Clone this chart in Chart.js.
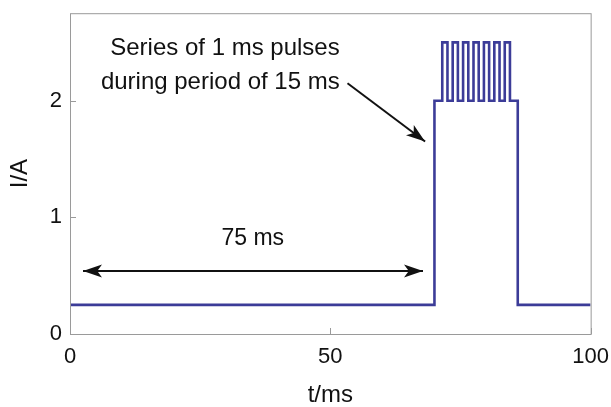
<!DOCTYPE html>
<html>
<head>
<meta charset="utf-8">
<script src="https://cdn.jsdelivr.net/npm/chart.js@4"></script>
<style>
	body { margin: 0; background: #fff; }
	#wrap { width: 611px; height: 407px; position: relative; }
</style>
</head>
<body>
<div id="wrap"><canvas id="pulse-canvas"></canvas></div>
<script>
// step trace: each value holds until the next time point
const time = [0, 70, 71.5, 72.5, 73.5, 74.5, 75.5, 76.5, 77.5, 78.5, 79.5, 80.5, 81.5, 82.5, 83.5, 84.5, 86, 100];
const current = [0.25, 2, 2.5, 2, 2.5, 2, 2.5, 2, 2.5, 2, 2.5, 2, 2.5, 2, 2.5, 2, 0.25, 0.25];

const xTicks = [0, 50, 100];
const yTicks = [0, 1, 2];

const noteLines = ["Series of 1 ms pulses", "during period of 15 ms"];
const spanLabel = "75 ms";

const fontFamily = "'Liberation Sans', Arial, Helvetica, sans-serif";

// ticks drawn inward, box round the plot, arrows and notes
const decorations = {
	id: "decorations",
	afterDraw(chart) {
		const ctx = chart.ctx;
		const area = chart.chartArea;
		const x = chart.scales.x;
		const y = chart.scales.y;

		ctx.save();
		ctx.strokeStyle = "#9a9a9a";
		ctx.lineWidth = 1;
		ctx.strokeRect(area.left + 0.5, area.top + 0.5, area.right - area.left, area.bottom - area.top);
		ctx.beginPath();
		yTicks.forEach((v) => {
			const py = Math.round(y.getPixelForValue(v)) + 0.5;
			ctx.moveTo(area.left, py);
			ctx.lineTo(area.left + 6, py);
		});
		xTicks.forEach((v) => {
			const px = Math.round(x.getPixelForValue(v)) + 0.5;
			ctx.moveTo(px, area.bottom);
			ctx.lineTo(px, area.bottom - 6);
		});
		ctx.stroke();

		const arrow = (x0, y0, x1, y1, both) => {
			const ax = x.getPixelForValue(x0), ay = y.getPixelForValue(y0);
			const bx = x.getPixelForValue(x1), by = y.getPixelForValue(y1);
			ctx.strokeStyle = "#111";
			ctx.fillStyle = "#111";
			ctx.lineWidth = 2;
			ctx.beginPath();
			ctx.moveTo(ax, ay);
			ctx.lineTo(bx, by);
			ctx.stroke();
			const head = (hx, hy, ang) => {
				const len = 19, wid = 6.5;
				const c = Math.cos(ang), s = Math.sin(ang);
				ctx.beginPath();
				ctx.moveTo(hx, hy);
				ctx.lineTo(hx - len * c - wid * s, hy - len * s + wid * c);
				ctx.lineTo(hx - len * 0.75 * c, hy - len * 0.75 * s);
				ctx.lineTo(hx - len * c + wid * s, hy - len * s - wid * c);
				ctx.closePath();
				ctx.fill();
			};
			const ang = Math.atan2(by - ay, bx - ax);
			head(bx, by, ang);
			if (both) head(ax, ay, ang + Math.PI);
		};

		arrow(2.5, 0.54, 67.8, 0.54, true);
		arrow(53.3, 2.15, 68.2, 1.65, false);

		ctx.fillStyle = "#111";
		ctx.textBaseline = "middle";
		ctx.font = "23px " + fontFamily;
		ctx.textAlign = "center";
		ctx.fillText(spanLabel, x.getPixelForValue(35.1), y.getPixelForValue(0.82));
		ctx.font = "24px " + fontFamily;
		ctx.textAlign = "right";
		ctx.fillText(noteLines[0], x.getPixelForValue(51.8), y.getPixelForValue(2.45));
		ctx.fillText(noteLines[1], x.getPixelForValue(51.8), y.getPixelForValue(2.16));
		ctx.restore();
	},
};

const pulseCanvas = document.getElementById("pulse-canvas").getContext("2d");

Chart.defaults.font.family = fontFamily;
Chart.defaults.color = "#111";

const pulseChart = new Chart(pulseCanvas, {
	type: "line",
	data: {
		datasets: [
			{
				data: time.map((t, i) => ({ x: t, y: current[i] })),
				borderColor: "#3c3c98",
				borderWidth: 2.6,
				pointRadius: 0,
				stepped: true,
				fill: false,
			},
		],
	},
	options: {
		animation: false,
		responsive: true,
		maintainAspectRatio: false,
		layout: {
			padding: { top: 12, right: 19, left: 0, bottom: 0 },
		},
		plugins: {
			legend: { display: false },
			tooltip: { enabled: false },
		},
		scales: {
			x: {
				type: "linear",
				min: 0,
				max: 100,
				grid: { display: false },
				border: { display: false },
				ticks: {
					stepSize: 50,
					padding: 2,
					font: { size: 22 },
					maxRotation: 0,
				},
				title: {
					display: true,
					text: "t/ms",
					font: { size: 24, lineHeight: 1 },
					padding: { top: 0, bottom: 0 },
				},
				afterFit: (scale) => {
					scale.height = 73;
				},
			},
			y: {
				min: 0,
				max: 2.75,
				grid: { display: false },
				border: { display: false },
				ticks: {
					stepSize: 1,
					includeBounds: false,
					padding: 0,
					font: { size: 22 },
				},
				title: {
					display: true,
					text: "I/A",
					font: { size: 24, lineHeight: 1 },
					padding: { top: 8, bottom: 0 },
				},
				afterFit: (scale) => {
					scale.width = 70;
				},
			},
		},
	},
	plugins: [decorations],
});
</script>
</body>
</html>
